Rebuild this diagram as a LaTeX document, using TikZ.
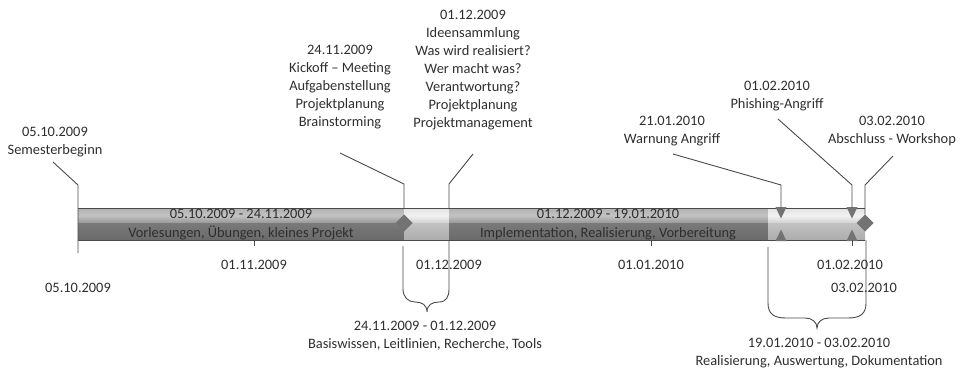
\documentclass[tikz,border=0pt]{standalone}
\usepackage{fontspec}
\setmainfont{Carlito}
\usetikzlibrary{shapes.geometric}
\definecolor{txt}{HTML}{2E2E2E}
\definecolor{ln}{HTML}{4A4A4A}
\definecolor{mk}{HTML}{737373}
\definecolor{dTop}{HTML}{B2B2B2}
\definecolor{dMid}{HTML}{C2C2C2}
\definecolor{dBot}{HTML}{989898}
\definecolor{dLowT}{HTML}{7A7A7A}
\definecolor{dLowB}{HTML}{6A6A6A}
\definecolor{lTop}{HTML}{E2E2E2}
\definecolor{lMid}{HTML}{F1F1F1}
\definecolor{lBot}{HTML}{D2D2D2}
\definecolor{lLowT}{HTML}{C2C2C2}
\definecolor{lLowB}{HTML}{ACACAC}
\begin{document}
\begin{tikzpicture}[x=1pt,y=-1pt,
  every node/.style={font=\fontsize{14.4}{18}\selectfont, text=txt, inner sep=0pt, outer sep=0pt},
  blk/.style={align=center, anchor=north},
  one/.style={anchor=base},
  conn/.style={draw=ln, line width=0.9pt},
  baredge/.style={draw=ln, line width=1pt},
  diam/.style={diamond, fill=mk, minimum width=17pt, minimum height=17pt},
  marker/.style={fill=mk}]
\useasboundingbox (0,0) rectangle (966,370);

% ---- bar segments ----
\foreach \xa/\xb/\c in {78/404/d, 404/449/l, 449/768/d, 768/865/l} {
  \shade[top color=\c Top, bottom color=\c Bot, middle color=\c Mid] (\xa,208) rectangle (\xb,223);
  \shade[top color=\c LowT, bottom color=\c LowB] (\xa,223) rectangle (\xb,240);
}
\draw[baredge] (78,208) -- (865,208);
\draw[baredge] (78,240) -- (865,240);

% ---- coordinates ----
\coordinate (s0) at (53,162);  \coordinate (k0) at (78,185);  \coordinate (e0) at (78,253);
\coordinate (s1) at (340,153); \coordinate (k1) at (404,184); \coordinate (e1) at (404,208);
\coordinate (s2) at (473,154); \coordinate (k2) at (449,184); \coordinate (e2) at (449,208);
\coordinate (s3) at (673,154); \coordinate (k3) at (781,185); \coordinate (e3) at (781,208);
\coordinate (s4) at (778,119); \coordinate (k4) at (852,185); \coordinate (e4) at (852,208);
\coordinate (s5) at (893,156); \coordinate (k5) at (865,185);

% ---- markers ----
\node[diam] (D1) at (404,223) {};
\node[diam] (D2) at (865,223) {};
\foreach \m in {781,852} {
  \fill[marker] (\m-5.5,207) -- (\m+5.5,207) -- (\m,218.5) -- cycle;
  \fill[marker] (\m-5.5,241) -- (\m+5.5,241) -- (\m,229.5) -- cycle;
}

% ---- connectors ----
\draw[conn] (s0) -- (k0) -- (e0);
\draw[conn] (s1) -- (k1) -- (e1);
\draw[conn] (s2) -- (k2) -- (e2);
\draw[conn] (s3) -- (k3) -- (e3);
\draw[conn] (s4) -- (k4) -- (e4);
\draw[conn] (s5) -- (k5) -- (D2.north);

% ---- ticks ----
\foreach \t in {254,651,852} \draw[conn] (\t,240) -- (\t,246);

% ---- braces ----
\draw[conn] (403,246) -- (403,289)
  .. controls (403,297) and (408,302) .. (415,302)
  .. controls (422,302) and (427,305) .. (427,312)
  .. controls (427,305) and (432,302) .. (439,302)
  .. controls (446,302) and (449,297) .. (449,289) -- (449,240);
\draw[conn] (768,247) -- (768,303)
  .. controls (768,314) and (774,318) .. (786,318) -- (805,318)
  .. controls (812,318) and (817,322) .. (817,328)
  .. controls (817,322) and (822,318) .. (829,318) -- (848,318)
  .. controls (860,318) and (866,314) .. (866,303) -- (866,240);

% ---- labels above ----
\node[blk] (ts) at (55,127.4) {05.10.2009\\Semesterbeginn};
\node[blk] (tk) at (340,45.4) {24.11.2009\\Kickoff – Meeting\\Aufgabenstellung\\Projektplanung\\Brainstorming};
\node[blk] (ti) at (473,10.4) {01.12.2009\\Ideensammlung\\Was wird realisiert?\\Wer macht was?\\Verantwortung?\\Projektplanung\\Projektmanagement};
\node[blk] (tw) at (672,116.4) {21.01.2010\\Warnung Angriff};
\node[blk] (tp) at (777,81.4) {01.02.2010\\Phishing-Angriff};
\node[blk] (ta) at (892,116.4) {03.02.2010\\Abschluss - Workshop};

% ---- bar texts ----
\node[one] (p1a) at (241,218.6) {05.10.2009 - 24.11.2009};
\node[one] (p1b) at (241,237.5) {Vorlesungen, Übungen, kleines Projekt};
\node[one] (p3a) at (608,218.6) {01.12.2009 - 19.01.2010};
\node[one] (p3b) at (608,237.5) {Implementation, Realisierung, Vorbereitung};

% ---- axis dates ----
\node[one] (x0) at (78,292.6) {05.10.2009};
\node[one] (x1) at (254,269.6) {01.11.2009};
\node[one] (x2) at (449,269.6) {01.12.2009};
\node[one] (x3) at (651,269.6) {01.01.2010};
\node[one] (x4) at (850,269.6) {01.02.2010};
\node[one] (x5) at (864,292.6) {03.02.2010};

% ---- brace labels ----
\node[blk] (r1) at (425,321.4) {24.11.2009 - 01.12.2009\\Basiswissen, Leitlinien, Recherche, Tools};
\node[blk] (r2) at (819,338.4) {19.01.2010 - 03.02.2010\\Realisierung, Auswertung, Dokumentation};
\end{tikzpicture}
\end{document}
